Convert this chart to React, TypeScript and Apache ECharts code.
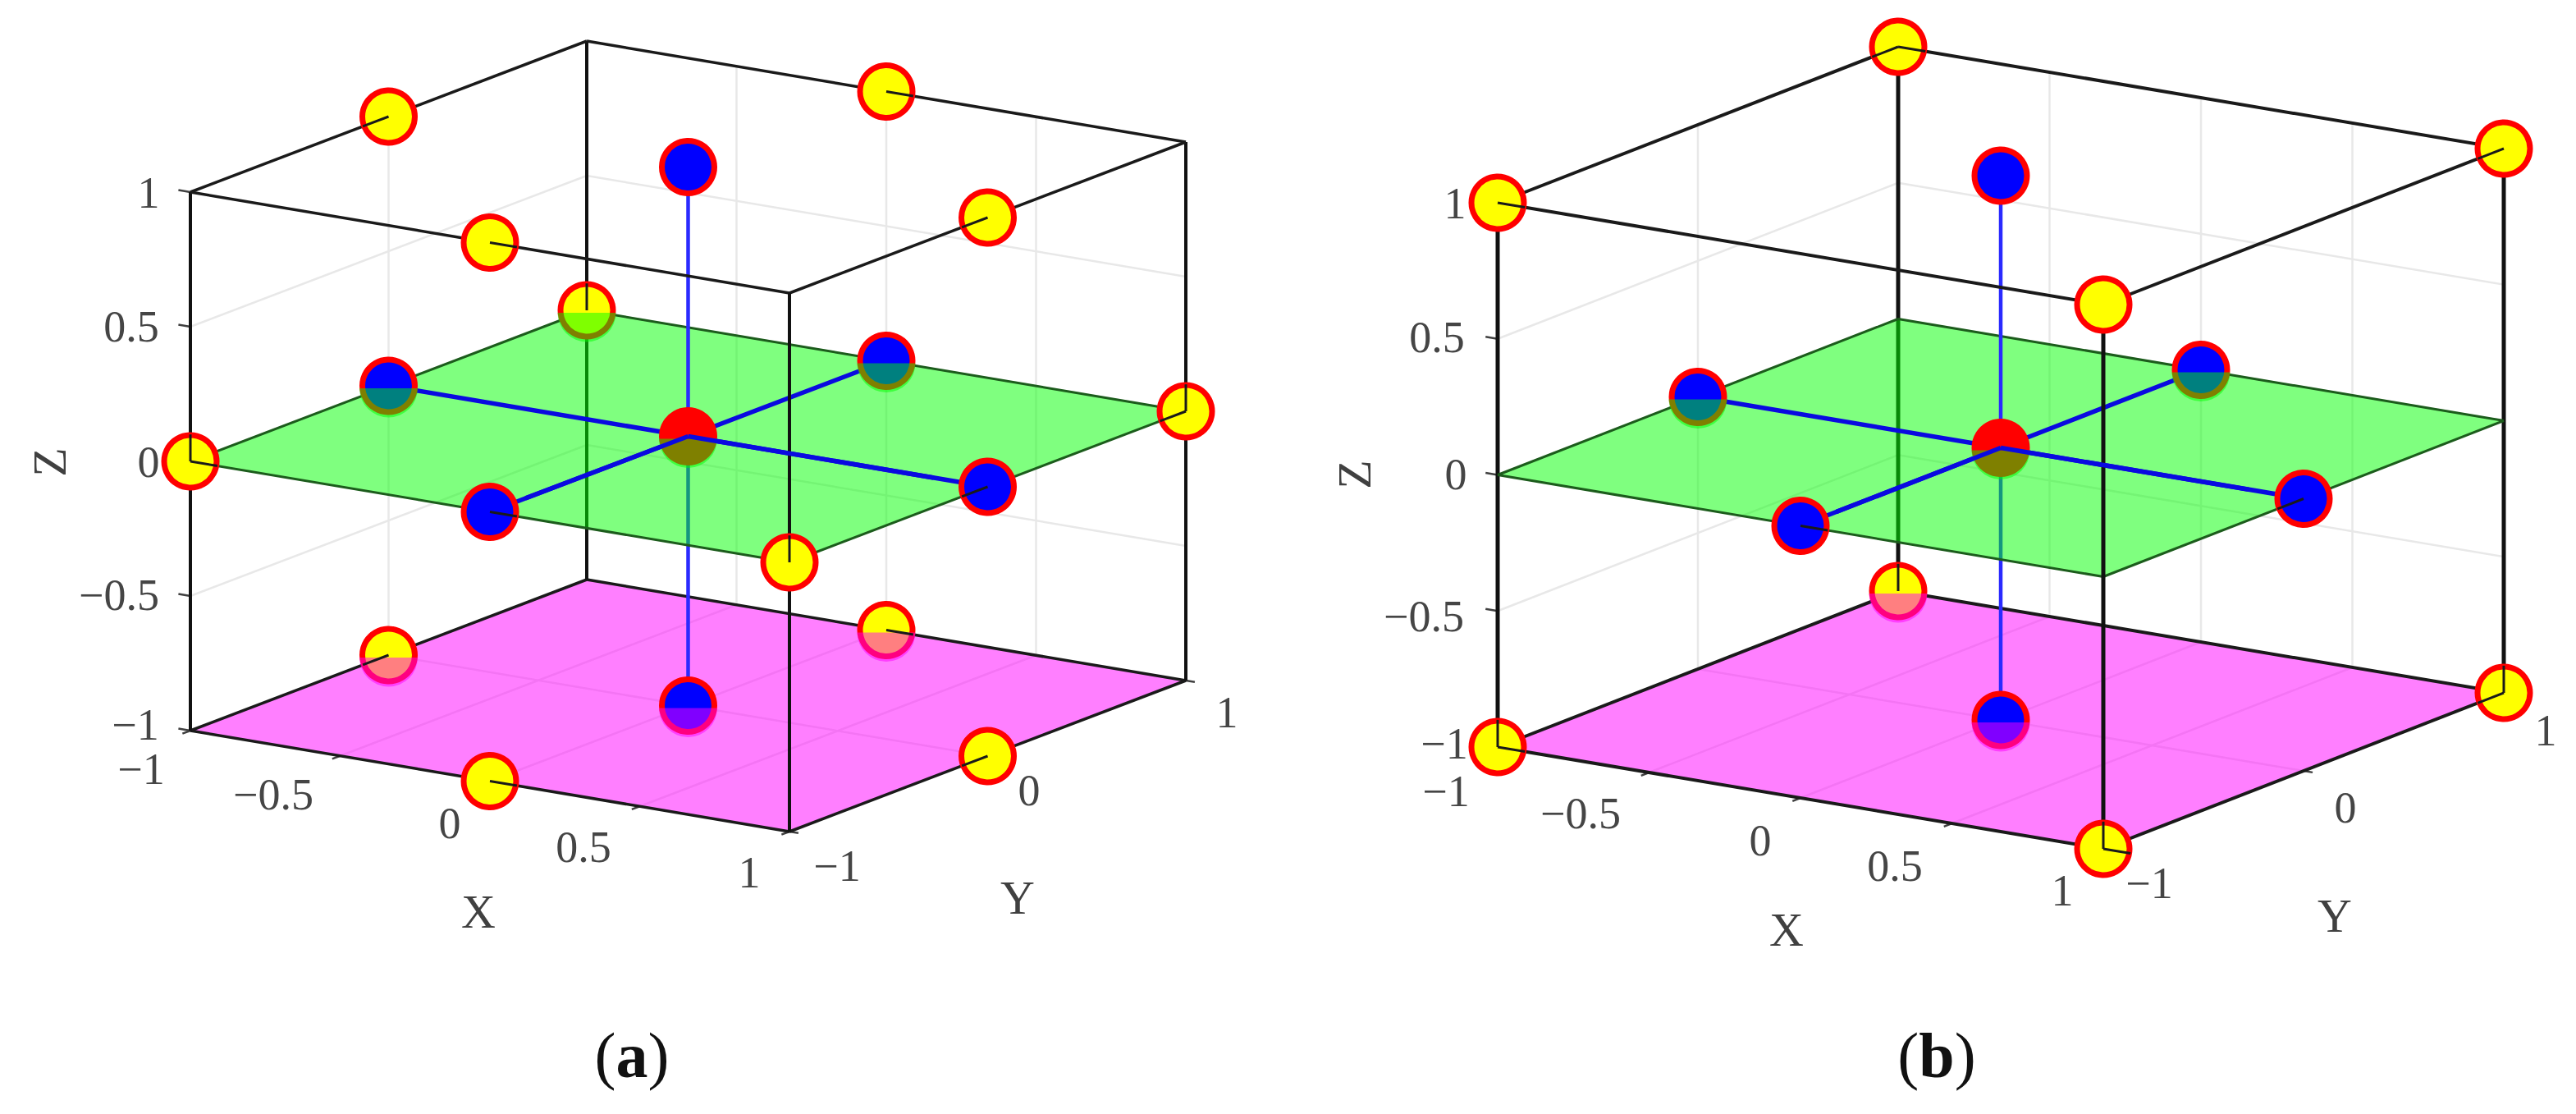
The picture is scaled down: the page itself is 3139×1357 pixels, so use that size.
import React, { useEffect, useRef } from "react";
import * as echarts from "echarts";

const WIDTH = 3139;
const HEIGHT = 1357;

type V3 = number[];

// ---- design points, in coded units [X, Y, Z] ----
const edgeMidPoints: V3[] = [
  [-1, 0, 1], [0, 1, 1], [1, 0, 1], [0, -1, 1],
  [-1, 1, 0], [1, 1, 0], [-1, -1, 0], [1, -1, 0],
  [-1, 0, -1], [0, 1, -1], [0, -1, -1], [1, 0, -1],
];
const cornerPoints: V3[] = [
  [-1, -1, 1], [-1, 1, 1], [1, 1, 1], [1, -1, 1],
  [-1, -1, -1], [-1, 1, -1], [1, 1, -1], [1, -1, -1],
];
const facePoints: V3[] = [
  [-1, 0, 0], [0, 1, 0], [0, -1, 0], [1, 0, 0], [0, 0, 1], [0, 0, -1],
];
const centrePoints: V3[] = [[0, 0, 0]];

// markers cut by a translucent plane
const greenCutA: V3[] = [[-1, 1, 0], [-1, 0, 0], [0, 1, 0], [0, 0, 0]];
const magentaCutA: V3[] = [[-1, 0, -1], [0, 1, -1], [0, 0, -1]];
const greenCutB: V3[] = [[-1, 0, 0], [0, 1, 0], [0, 0, 0]];
const magentaCutB: V3[] = [[-1, 1, -1], [0, 0, -1]];

// [point, direction] of the line pieces that pass in front of a marker
const frontStubsA: V3[][] = [
  [[-1, 0, 1], [0, -1, 0]], [[0, 1, 1], [1, 0, 0]], [[1, 0, 1], [0, -1, 0]], [[0, -1, 1], [1, 0, 0]],
  [[-1, 0, -1], [0, -1, 0]], [[0, 1, -1], [1, 0, 0]], [[0, -1, -1], [1, 0, 0]], [[1, 0, -1], [0, -1, 0]],
  [[-1, -1, 0], [0, 0, 1]], [[-1, -1, 0], [1, 0, 0]], [[1, -1, 0], [0, 0, 1]], [[-1, 1, 0], [0, 0, 1]],
  [[1, 1, 0], [0, 0, 1]], [[1, 1, 0], [0, -1, 0]], [[0, -1, 0], [1, 0, 0]], [[1, 0, 0], [0, -1, 0]],
];
const frontStubsB: V3[][] = [
  [[-1, -1, 1], [1, 0, 0]], [[-1, 1, 1], [1, 0, 0]], [[-1, 1, 1], [0, -1, 0]], [[1, 1, 1], [0, -1, 0]],
  [[-1, -1, -1], [0, 0, 1]], [[-1, -1, -1], [1, 0, 0]], [[-1, 1, -1], [0, 0, 1]],
  [[1, 1, -1], [0, 0, 1]], [[1, 1, -1], [0, -1, 0]], [[1, -1, -1], [0, 0, 1]], [[1, -1, -1], [1, 0, 0]],
  [[0, -1, 0], [1, 0, 0]], [[1, 0, 0], [0, -1, 0]],
];

// ---- axes ----
const xTicks = [-1, -0.5, 0, 0.5, 1];
const yTicks = [-1, 0, 1];
const zTicks = [-1, -0.5, 0, 0.5, 1];
const xyzGrid = [-0.5, 0, 0.5];
const yGrid = [0];

const fmt = (v: number) => (v < 0 ? "\u2212" + Math.abs(v) : String(v));

// ---- projection and label layout of each panel (pixels) ----
const panelA = {
  centre: [838.5, 531.5], xVec: [365, 61.5], yVec: [241.5, -92], zVec: [0, -328],
  verticalWidth: 4, edgeWidth: 3.5,
  greenCut: greenCutA, magentaCut: magentaCutA, stubs: frontStubsA,
  yellow: edgeMidPoints,
  zLabelPos: [[165, 883], [145, 725], [181, 563], [160, 398], [181, 235]],
  xLabelPos: [[172, 937], [333, 968], [548, 1003], [711, 1032], [913, 1063]],
  yLabelPos: [[1020, 1055], [1254, 963], [1495, 868]],
  xTitle: [583, 1110], yTitle: [1240, 1093], zTitle: [60, 563],
  caption: "a", captionPos: [770, 1285],
};
const panelB = {
  centre: [2438, 545.5], xVec: [369, 62], yVec: [244, -95], zVec: [0, -331.5],
  verticalWidth: 5, edgeWidth: 4,
  greenCut: greenCutB, magentaCut: magentaCutB, stubs: frontStubsB,
  yellow: cornerPoints,
  zLabelPos: [[1760, 906], [1735, 751], [1774, 578], [1751, 411], [1773, 248]],
  xLabelPos: [[1762, 964], [1926, 991], [2145, 1024], [2309, 1055], [2513, 1085]],
  yLabelPos: [[2619, 1076], [2858, 984], [3102, 890]],
  xTitle: [2177, 1132], yTitle: [2845, 1115], zTitle: [1650, 578],
  caption: "b", captionPos: [2360, 1285],
};
type Panel = typeof panelA;

const SERIF = "'Liberation Serif', serif";
const MARKER = 64;
const MARKER_BORDER = 7;

function project(p: Panel, v: V3): number[] {
  return [
    p.centre[0] + p.xVec[0] * v[0] + p.yVec[0] * v[1] + p.zVec[0] * v[2],
    p.centre[1] + p.xVec[1] * v[0] + p.yVec[1] * v[1] + p.zVec[1] * v[2],
  ];
}

function segSeries(p: Panel, name: string, segs: V3[][], color: string, width: number, z: number) {
  return {
    type: "custom", name, coordinateSystem: "cartesian2d", silent: true, z,
    data: segs.map((s) => [...project(p, s[0]), ...project(p, s[1])]),
    encode: { x: [0, 2], y: [1, 3] },
    renderItem: (_: any, api: any) => {
      const a = api.coord([api.value(0), api.value(1)]);
      const b = api.coord([api.value(2), api.value(3)]);
      return {
        type: "line",
        shape: { x1: a[0], y1: a[1], x2: b[0], y2: b[1] },
        style: { stroke: color, lineWidth: width, fill: null },
      };
    },
  };
}

function planeSeries(p: Panel, name: string, level: number, fill: string, z: number) {
  const corners: V3[] = [[-1, -1, level], [1, -1, level], [1, 1, level], [-1, 1, level]];
  const flat = corners.flatMap((c) => project(p, c));
  return {
    type: "custom", name, coordinateSystem: "cartesian2d", silent: true, z,
    data: [flat],
    encode: { x: [0, 2, 4, 6], y: [1, 3, 5, 7] },
    renderItem: (_: any, api: any) => {
      const pts = [0, 2, 4, 6].map((i) => api.coord([api.value(i), api.value(i + 1)]));
      return { type: "polygon", shape: { points: pts }, style: { fill } };
    },
  };
}

function markerSeries(p: Panel, name: string, pts: V3[], color: string, z: number) {
  return {
    type: "scatter", name, silent: true, z,
    symbol: "circle", symbolSize: MARKER,
    itemStyle: { color, borderColor: "#ff0000", borderWidth: MARKER_BORDER, opacity: 1 },
    data: pts.map((v) => project(p, v)),
  };
}

function tintSeries(p: Panel, name: string, pts: V3[], fill: string, z: number) {
  return {
    type: "custom", name, coordinateSystem: "cartesian2d", silent: true, z,
    data: pts.map((v) => project(p, v)),
    encode: { x: 0, y: 1 },
    renderItem: (_: any, api: any) => {
      const c = api.coord([api.value(0), api.value(1)]);
      return {
        type: "sector",
        shape: { cx: c[0], cy: c[1] + 3, r: (MARKER + MARKER_BORDER) / 2, r0: 0, startAngle: 0, endAngle: Math.PI, clockwise: true },
        style: { fill },
      };
    },
  };
}

function textSeries(name: string, texts: string[], pos: number[][], style: any, rotation: number, z: number) {
  return {
    type: "custom", name, coordinateSystem: "cartesian2d", silent: true, z,
    data: pos.map((q) => [q[0], q[1]]),
    encode: { x: 0, y: 1 },
    renderItem: (params: any, api: any) => {
      const c = api.coord([api.value(0), api.value(1)]);
      return {
        type: "text", x: c[0], y: c[1], rotation,
        style: { text: texts[params.dataIndex], align: "center", verticalAlign: "middle", fontFamily: SERIF, ...style },
      };
    },
  };
}

function panelSeries(p: Panel): any[] {
  // light grid on the back walls and on the floor
  const grid: V3[][] = [];
  zTicks.slice(1, -1).forEach((z) => {
    grid.push([[-1, -1, z], [-1, 1, z]], [[-1, 1, z], [1, 1, z]]);
  });
  xyzGrid.forEach((x) => {
    grid.push([[x, 1, -1], [x, 1, 1]], [[x, -1, -1], [x, 1, -1]]);
  });
  yGrid.forEach((y) => {
    grid.push([[-1, y, -1], [-1, y, 1]], [[-1, y, -1], [1, y, -1]]);
  });

  const ticks: V3[][] = [
    ...zTicks.map((z) => [[-1, -1, z], [-1.04, -1, z]]),
    ...xTicks.map((x) => [[x, -1, -1], [x, -1.04, -1]]),
    ...yTicks.map((y) => [[1, y, -1], [1.03, y, -1]]),
  ];

  const bottomEdges: V3[][] = [
    [[-1, -1, -1], [-1, 1, -1]], [[-1, 1, -1], [1, 1, -1]], [[1, 1, -1], [1, -1, -1]], [[1, -1, -1], [-1, -1, -1]],
  ];
  const topEdges: V3[][] = [
    [[-1, -1, 1], [-1, 1, 1]], [[-1, 1, 1], [1, 1, 1]], [[1, 1, 1], [1, -1, 1]], [[1, -1, 1], [-1, -1, 1]],
  ];
  const rearVerticals: V3[][] = [
    [[-1, -1, -1], [-1, -1, 1]], [[-1, 1, -1], [-1, 1, 1]], [[1, 1, -1], [1, 1, 1]],
  ];
  const frontVertical: V3[][] = [[[1, -1, -1], [1, -1, 1]]];
  const greenOutline: V3[][] = [
    [[-1, -1, 0], [1, -1, 0]], [[1, -1, 0], [1, 1, 0]], [[1, 1, 0], [-1, 1, 0]], [[-1, 1, 0], [-1, -1, 0]],
  ];
  const stubs: V3[][] = p.stubs.map(([a, d]) => [a, [a[0] + d[0] * 0.09, a[1] + d[1] * 0.13, a[2] + d[2] * 0.1]]);

  const cap = {
    fill: "#111111", fontSize: 78,
    rich: { b: { fontWeight: "bold", fontFamily: SERIF, fontSize: 78, fill: "#111111" } },
  };

  return [
    segSeries(p, "grid", grid, "#e8e8e8", 2.5, 1),
    planeSeries(p, "plane z=-1", -1, "rgba(255,0,255,0.5)", 2),
    segSeries(p, "ticks", ticks, "#404040", 2.5, 3),
    segSeries(p, "floor edges", bottomEdges, "#1a1a1a", p.edgeWidth, 3),
    segSeries(p, "rear verticals", rearVerticals, "#111111", p.verticalWidth, 3),
    segSeries(p, "axis z lower", [[[0, 0, -1], [0, 0, 0]]], "#2a2aff", 4.5, 3),
    planeSeries(p, "plane z=0", 0, "rgba(0,255,0,0.5)", 4),
    segSeries(p, "plane outline", greenOutline, "#1c5c1c", 3, 4),
    segSeries(p, "axis z upper", [[[0, 0, 0], [0, 0, 1]]], "#2a2aff", 4.5, 5),
    segSeries(p, "axes rear", [[[-1, 0, 0], [0, 0, 0]], [[0, 1, 0], [0, 0, 0]]], "#0a0ae0", 5.5, 5),
    segSeries(p, "axes front under", [[[1, 0, 0], [0, 0, 0]], [[0, -1, 0], [0, 0, 0]]], "#0a0ae0", 5.5, 5),
    segSeries(p, "top edges", topEdges, "#1a1a1a", p.edgeWidth, 5.5),
    segSeries(p, "front vertical", frontVertical, "#111111", p.verticalWidth, 5.5),
    markerSeries(p, "yellow points", p.yellow, "#ffff00", 6),
    markerSeries(p, "blue points", facePoints, "#0000ff", 6),
    markerSeries(p, "red point", centrePoints, "#ff0000", 6),
    tintSeries(p, "green cut", p.greenCut, "rgba(0,255,0,0.5)", 7),
    tintSeries(p, "magenta cut", p.magentaCut, "rgba(255,0,255,0.5)", 7),
    segSeries(p, "front stubs", stubs, "#1a1a1a", 3, 8),
    segSeries(p, "axes front over", [[[0.82, 0, 0], [0, 0, 0]], [[0, -0.82, 0], [0, 0, 0]]], "#0a0ae0", 5.5, 8),
    textSeries("z ticks", zTicks.map(fmt), p.zLabelPos, { fill: "#454545", fontSize: 54 }, 0, 10),
    textSeries("x ticks", xTicks.map(fmt), p.xLabelPos, { fill: "#454545", fontSize: 54 }, 0, 10),
    textSeries("y ticks", yTicks.map(fmt), p.yLabelPos, { fill: "#454545", fontSize: 54 }, 0, 10),
    textSeries("x title", ["X"], [p.xTitle], { fill: "#404040", fontSize: 58 }, 0, 10),
    textSeries("y title", ["Y"], [p.yTitle], { fill: "#404040", fontSize: 58 }, 0, 10),
    textSeries("z title", ["Z"], [p.zTitle], { fill: "#404040", fontSize: 58 }, Math.PI / 2, 10),
    textSeries("caption", ["({b|" + p.caption + "})"], [p.captionPos], cap, 0, 10),
  ];
}

export default function App() {
  const ref = useRef<HTMLDivElement>(null);
  useEffect(() => {
    document.body.style.margin = "0";
    const chart = echarts.init(ref.current!, undefined, { renderer: "svg" });
    chart.setOption({
      animation: false,
      backgroundColor: "#ffffff",
      grid: { left: 0, right: 0, top: 0, bottom: 0, containLabel: false },
      xAxis: { type: "value", min: 0, max: WIDTH, show: false },
      yAxis: { type: "value", min: 0, max: HEIGHT, inverse: true, show: false },
      series: [...panelSeries(panelA), ...panelSeries(panelB)],
    });
    return () => chart.dispose();
  }, []);
  return <div ref={ref} style={{ position: "absolute", left: 0, top: 0, width: WIDTH, height: HEIGHT }} />;
}
